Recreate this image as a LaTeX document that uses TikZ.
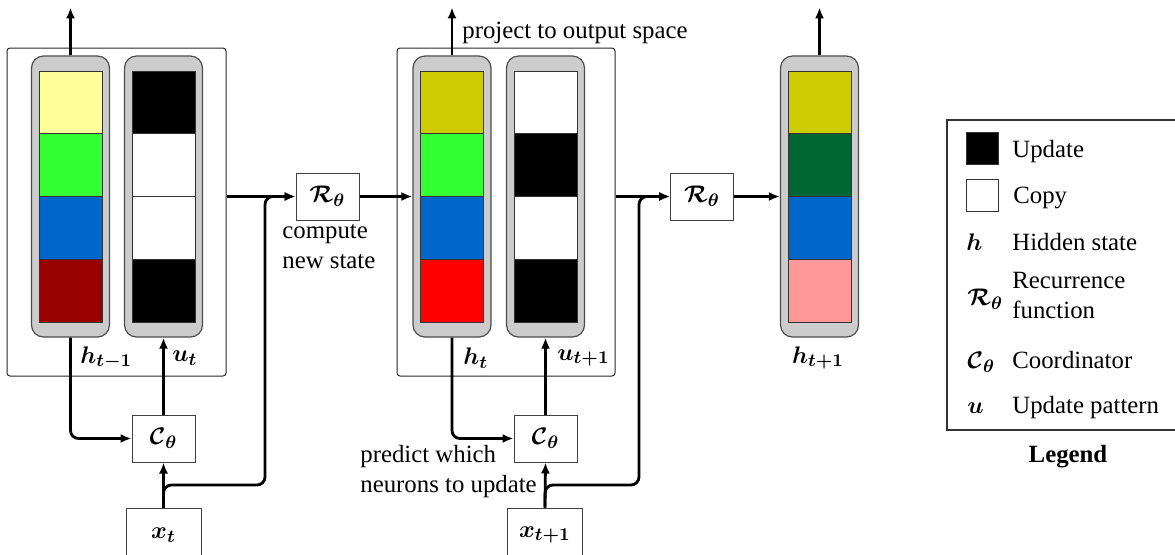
\documentclass[tikz,border=0pt]{standalone}
\usepackage{fontspec}
\setmainfont{Liberation Serif}
\usepackage{amsmath,bm}
\definecolor{colgray}{RGB}{204,204,204}
\definecolor{hyellow}{RGB}{255,255,153}
\definecolor{hgreen}{RGB}{51,255,51}
\definecolor{hblue}{RGB}{0,102,204}
\definecolor{hdarkred}{RGB}{153,0,0}
\definecolor{holive}{RGB}{204,204,0}
\definecolor{hred}{RGB}{255,0,0}
\definecolor{hdarkgreen}{RGB}{0,102,51}
\definecolor{hpink}{RGB}{255,153,153}
\usetikzlibrary{arrows.meta,positioning,calc}

\begin{document}
\begin{tikzpicture}[x=0.5pt, y=-0.5pt, font=\fontsize{12.4}{15}\selectfont,
  modbox/.style={rectangle, draw=black!85, line width=0.5pt, rounded corners=1.5pt, inner sep=0pt},
  col/.style={rectangle, rounded corners=6pt, draw=black!70, line width=0.6pt,
              fill=colgray, minimum width=39pt, minimum height=140.5pt, inner sep=0pt},
  cell/.style={rectangle, draw=black!80, line width=0.4pt,
               minimum width=31.5pt, minimum height=31.4pt, inner sep=0pt},
  fbox/.style={rectangle, draw=black!75, line width=0.5pt, fill=white,
               minimum width=31.5pt, minimum height=23.5pt, inner sep=0pt},
  xbox/.style={fbox, minimum width=37.5pt, minimum height=27pt},
  txt/.style={inner sep=0pt, anchor=base west, align=left},
  arr/.style={-{Latex[length=5.5pt,width=4.5pt]}, line width=1.4pt}
]
\useasboundingbox (0,0) rectangle (1175,554);

% Module boxes
\node[modbox, minimum width=109.5pt, minimum height=164pt] (m1) at (116.5,212) {};
\node[modbox, minimum width=109pt,   minimum height=164pt] (m2) at (506,212) {};

% State columns
\node[col] (h1) at (70.5,196.5)  {};
\node[col] (u1) at (163.5,196.5) {};
\node[col] (h2) at (452,196.5)   {};
\node[col] (u2) at (545.5,196.5) {};
\node[col] (h3) at (819.5,196.5) {};

\foreach \c [count=\i from 0] in {hyellow,hgreen,hblue,hdarkred}
  \node[cell, fill=\c] (h1c\i) at (70.5,{102.4+62.75*\i}) {};
\foreach \c [count=\i from 0] in {black,white,white,black}
  \node[cell, fill=\c] (u1c\i) at (163.5,{102.4+62.75*\i}) {};
\foreach \c [count=\i from 0] in {holive,hgreen,hblue,hred}
  \node[cell, fill=\c] (h2c\i) at (452,{102.4+62.75*\i}) {};
\foreach \c [count=\i from 0] in {white,black,white,black}
  \node[cell, fill=\c] (u2c\i) at (545.5,{102.4+62.75*\i}) {};
\foreach \c [count=\i from 0] in {holive,hdarkgreen,hblue,hpink}
  \node[cell, fill=\c] (h3c\i) at (819.5,{102.4+62.75*\i}) {};

% Column labels
\node[txt, anchor=west] (lh1) at (80,358)  {$\bm{h_{t-1}}$};
\node[txt, anchor=west] (lu1) at (172,358) {$\bm{u_t}$};
\node[txt, anchor=west] (lh2) at (463,358) {$\bm{h_t}$};
\node[txt, anchor=west] (lu2) at (557,358) {$\bm{u_{t+1}}$};
\node[inner sep=0pt]    (lh3) at (818,358) {$\bm{h_{t+1}}$};

% Function boxes
\node[fbox] (R1) at (327.5,196.5) {$\bm{\mathcal{R}_\theta}$};
\node[fbox] (R2) at (702,196.5)   {$\bm{\mathcal{R}_\theta}$};
\node[fbox] (C1) at (163.5,438.5) {$\bm{\mathcal{C}_\theta}$};
\node[fbox] (C2) at (545.5,438.5) {$\bm{\mathcal{C}_\theta}$};
\node[xbox] (x1) at (163.5,535)   {$\bm{x_t}$};
\node[xbox] (x2) at (545,535)     {$\bm{x_{t+1}}$};

% Annotations
\node[txt] (ncomp) at (282,268) {compute\\new state};
\node[txt] (nproj) at (462,38)  {project to output space};
\node[txt] (npred) at (360,492) {predict which\\neurons to update};

% Connectors
\coordinate (b1) at (265,485);
\coordinate (b2) at (639,485);
\draw[arr] (h1.north) -- ++(0,-48);
\draw[arr] (h2.north) -- ++(0,-48);
\draw[arr] (h3.north) -- ++(0,-48);
\draw[arr] (m1.east |- R1.west) -- (R1.west);
\draw[arr] (m2.east |- R2.west) -- (R2.west);
\draw[arr] (R1.east) -- (h2.west);
\draw[arr] (R2.east) -- (h3.west);
\draw[arr, rounded corners=4pt] (h1.south) |- (C1.west);
\draw[arr, rounded corners=4pt] (h2.south) |- (C2.west);
\draw[arr] (C1.north) -- (u1.south);
\draw[arr] (C2.north) -- (u2.south);
\draw[arr] (x1.north) -- (C1.south);
\draw[arr] (x2.north) -- (C2.south);
\draw[arr, rounded corners=4pt] (x1.north) |- (b1) |- (R1.west);
\draw[arr, rounded corners=4pt] (x2.north) |- (b2) |- (R2.west);

% Legend
\node[modbox, draw=black!80, line width=0.6pt, rounded corners=0pt,
      minimum width=116.5pt, minimum height=155pt] (legend) at (1063.5,275) {};
\node[cell, fill=black, minimum width=16pt, minimum height=16pt] (kup) at (982,148) {};
\node[cell, fill=white, minimum width=16pt, minimum height=16pt] (kcp) at (982,195) {};
\node[txt] (kh) at (966,250) {$\bm{h}$};
\node[txt] (kR) at (967,305) {$\bm{\mathcal{R}_\theta}$};
\node[txt] (kC) at (967,368) {$\bm{\mathcal{C}_\theta}$};
\node[txt] (ku) at (967,413) {$\bm{u}$};
\node[txt] (tup) at (1012,157) {Update};
\node[txt] (tcp) at (1013,203) {Copy};
\node[txt] (th)  at (1012,250) {Hidden state};
\node[txt] (tR)  at (1012,318) {Recurrence\\function};
\node[txt] (tC)  at (1012,368) {Coordinator};
\node[txt] (tu)  at (1012,413) {Update pattern};
\node[inner sep=0pt, anchor=base, font=\fontsize{12.4}{15}\selectfont\bfseries] (tlg) at (1068,462) {Legend};
\end{tikzpicture}
\end{document}
